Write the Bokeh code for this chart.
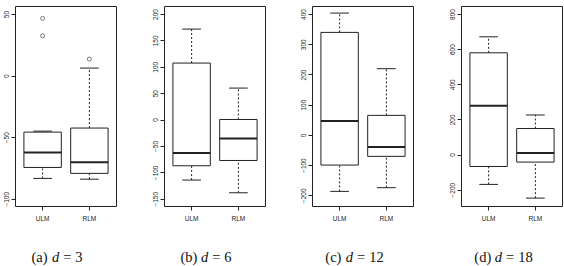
import numpy as np
from bokeh.plotting import figure
from bokeh.models import Range1d, FixedTicker, ColumnDataSource
from bokeh.layouts import row, column
from bokeh.embed import file_html
from bokeh.resources import INLINE
from bokeh.core.properties import value

# ---- data ----
methods = ["ULM", "RLM"]
d_values = [3, 6, 12, 18]
panel_letters = ["a", "b", "c", "d"]

# each entry: [ULM, RLM] for panels d=3, 6, 12, 18
whisker_low = [[-83.1, -83.7], [-113.7, -137.8], [-185.3, -173.1], [-167.0, -245.0]]
q1 = [[-74.2, -79.0], [-86.6, -76.6], [-98.3, -69.5], [-65.0, -40.0]]
median = [[-62.0, -69.9], [-62.5, -34.9], [47.3, -38.7], [281.0, 11.0]]
q3 = [[-45.5, -42.2], [108.0, 1.1], [340.8, 66.2], [582.0, 151.0]]
whisker_high = [[-44.7, 6.5], [172.4, 60.6], [404.7, 220.7], [673.0, 228.0]]
outliers_ulm = [[46.9, 32.7], [], [], []]
outliers_rlm = [[13.8], [], [], []]

y_ticks = [[-100, -50, 0, 50],
           [-150, -100, -50, 0, 50, 100, 150, 200],
           [-200, -100, 0, 100, 200, 300, 400],
           [-200, 0, 200, 400, 600, 800]]
y_limits = [(-105.9, 56.5), (-163.8, 215.2), (-235.4, 426.5), (-292.8, 845.5)]

# ---- layout ----
borders = [(15, 24), (24, 23), (24, 24), (24, 2)]
FRAME_W = 101

figs = []
for i in range(4):
    bl, br = borders[i]
    p = figure(width=bl + FRAME_W + br, height=226,
               x_range=Range1d(0.42, 2.58), y_range=Range1d(*y_limits[i]),
               output_backend="svg", toolbar_location=None,
               min_border_left=bl, min_border_right=br,
               min_border_top=6, min_border_bottom=20)
    p.grid.visible = False
    p.outline_line_color = "#222222"
    p.outline_line_width = 1

    # axes
    p.xaxis.ticker = FixedTicker(ticks=[1, 2])
    p.xaxis.major_label_overrides = {1: methods[0], 2: methods[1]}
    p.yaxis.ticker = FixedTicker(ticks=y_ticks[i])
    for ax in (p.xaxis[0], p.yaxis[0]):
        ax.axis_line_color = None
        ax.minor_tick_line_color = None
        ax.major_tick_in = 0
        ax.major_tick_out = 4
        ax.major_tick_line_color = "#222222"
        ax.major_label_text_font = "Liberation Sans"
        ax.major_label_text_font_size = "6.5px"
        ax.major_label_text_color = "#222222"
    p.yaxis.major_label_orientation = "vertical"
    p.yaxis.major_label_standoff = 2
    p.xaxis.major_label_standoff = 4

    x = np.array([1.0, 2.0])
    src = ColumnDataSource(dict(
        x=x, xl=x - 0.4, xr=x + 0.4, cl=x - 0.2, cr=x + 0.2,
        lo=whisker_low[i], q1=q1[i], med=median[i], q3=q3[i], hi=whisker_high[i]))

    # whiskers
    p.segment(x0="x", y0="q3", x1="x", y1="hi", source=src,
              line_color="#222222", line_width=1, line_dash="2 2")
    p.segment(x0="x", y0="lo", x1="x", y1="q1", source=src,
              line_color="#222222", line_width=1, line_dash="2 2")
    # caps
    p.segment(x0="cl", y0="hi", x1="cr", y1="hi", source=src,
              line_color="#222222", line_width=1)
    p.segment(x0="cl", y0="lo", x1="cr", y1="lo", source=src,
              line_color="#222222", line_width=1)
    # boxes
    p.quad(left="xl", right="xr", bottom="q1", top="q3", source=src,
           fill_color="white", line_color="#222222", line_width=1)
    # medians
    p.segment(x0="xl", y0="med", x1="xr", y1="med", source=src,
              line_color="#222222", line_width=2)
    # outliers
    if outliers_ulm[i]:
        p.scatter(x=[1.0] * len(outliers_ulm[i]), y=outliers_ulm[i], marker="circle",
                  size=4, fill_color=None, line_color="#555555", line_width=0.8)
    if outliers_rlm[i]:
        p.scatter(x=[2.0] * len(outliers_rlm[i]), y=outliers_rlm[i], marker="circle",
                  size=4, fill_color=None, line_color="#555555", line_width=0.8)
    figs.append(p)

# ---- captions ----
cap = figure(width=564, height=40, x_range=Range1d(0, 564), y_range=Range1d(0, 40),
             output_backend="svg", toolbar_location=None,
             x_axis_type=None, y_axis_type=None, min_border=0)
cap.grid.visible = False
cap.outline_line_color = None

CAP_FONT = value("Liberation Serif")
CAP_SIZE = "14.5px"
caption_centers = [56.5, 205.5, 354.0, 503.0]
base_y = 9.5
for i in range(4):
    num = str(d_values[i])
    total = 43.9 + 7.25 * len(num)
    x0 = caption_centers[i] - total / 2
    common = dict(text_font=CAP_FONT, text_font_size=CAP_SIZE, text_align="left",
                  text_baseline="alphabetic", text_color="#111111")
    cap.text(x=[x0], y=[base_y], text=["(" + panel_letters[i] + ")"], **common)
    cap.text(x=[x0 + 20.5], y=[base_y], text=["d"], text_font_style="italic", **common)
    cap.text(x=[x0 + 31.8], y=[base_y], text=["="], **common)
    cap.text(x=[x0 + 43.9], y=[base_y], text=[num], **common)

layout = column(row(*figs, spacing=0), cap, spacing=0)
open("out.html", "w").write(file_html(layout, INLINE))
